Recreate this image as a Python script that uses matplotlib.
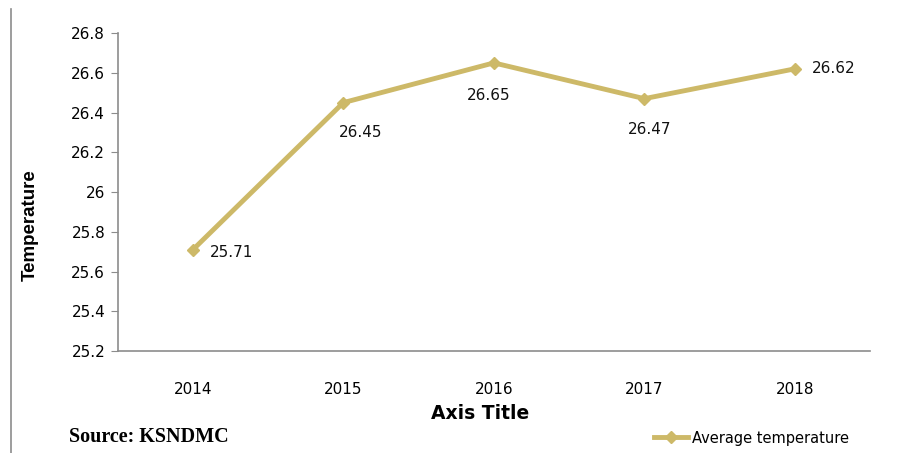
import matplotlib.pyplot as plt
from matplotlib.lines import Line2D

# Yearly average temperature
years = ['2014', '2015', '2016', '2017', '2018']
avg_temp = [25.71, 26.45, 26.65, 26.47, 26.62]
y_ticks = [25.2, 25.4, 25.6, 25.8, 26.0, 26.2, 26.4, 26.6, 26.8]
y_tick_labels = ['25.2', '25.4', '25.6', '25.8', '26', '26.2', '26.4', '26.6', '26.8']

line_color = '#CDB968'
grey = '#8c8c8c'

fig = plt.figure(figsize=(9.12, 4.53), dpi=100)
ax = fig.add_axes([0.129, 0.225, 0.825, 0.702])

x = list(range(len(years)))
ax.plot(x, avg_temp, color=line_color, linewidth=3.5, marker='D',
        markersize=6, solid_joinstyle='round')

ax.set_xlim(-0.5, len(years) - 0.5)
ax.set_ylim(25.2, 26.8)
ax.set_xticks(x)
ax.set_xticklabels(years)
ax.set_yticks(y_ticks)
ax.set_yticklabels(y_tick_labels)

for side in ['top', 'right']:
    ax.spines[side].set_visible(False)
for side in ['left', 'bottom']:
    ax.spines[side].set_color(grey)
    ax.spines[side].set_linewidth(1.2)

ax.tick_params(axis='y', length=5, color=grey, labelsize=11, pad=4)
ax.tick_params(axis='x', length=0, labelsize=11, pad=22)

# value labels, offsets in points
offsets = [(12, -2, 'left', 'center'),
           (-3, -16, 'left', 'top'),
           (-4, -18, 'center', 'top'),
           (4, -17, 'center', 'top'),
           (12, 0, 'left', 'center')]
for xi, v, (dx, dy, ha, va) in zip(x, avg_temp, offsets):
    ax.annotate(f'{v:.2f}', (xi, v), xytext=(dx, dy), textcoords='offset points',
                ha=ha, va=va, fontsize=11, color='#111111')

fig.text(0.033, 0.503, 'Temperature', rotation=90, ha='center', va='center',
         fontsize=13.5, fontweight='bold', family='Liberation Sans')
fig.text(0.527, 0.088, 'Axis Title', ha='center', va='center',
         fontsize=13.5, fontweight='bold', family='DejaVu Sans')
fig.text(0.076, 0.035, 'Source: KSNDMC', ha='left', va='center',
         fontsize=14.5, fontweight='bold', family='Liberation Serif')

handle = Line2D([], [], color=line_color, linewidth=3.5, marker='D', markersize=6)
fig.legend([handle], ['Average temperature'], loc='center left',
           bbox_to_anchor=(0.703, 0.033), frameon=False, fontsize=10.5,
           handlelength=2.3, handletextpad=0.3)

# thin border line at the far left
fig.add_artist(Line2D([0.012, 0.012], [0.0, 0.98], color=grey, linewidth=1.2,
                      transform=fig.transFigure))

fig.savefig('out.png', dpi=100)
